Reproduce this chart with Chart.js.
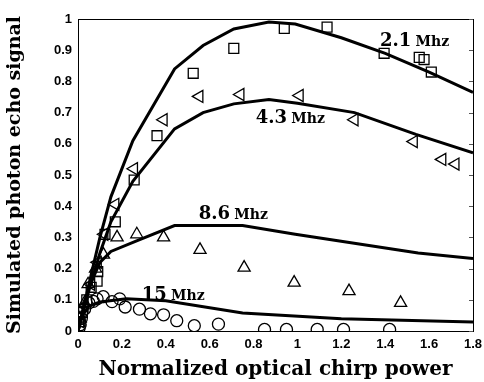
<!DOCTYPE html>
<html>
<head>
<meta charset="utf-8">
<script src="https://cdn.jsdelivr.net/npm/chart.js@4.4.0/dist/chart.umd.min.js"></script>
<style>
  html, body { margin: 0; padding: 0; background: #fff; }
  #wrap { width: 484px; height: 382px; position: relative; }
</style>
</head>
<body>
<div id="wrap"><canvas id="chart"></canvas></div>
<script>
// Simulated curves (solid lines), x = normalized chirp power
const curve21X = [0, 0.02, 0.05, 0.1, 0.15, 0.25, 0.44, 0.57, 0.71, 0.87, 0.99, 1.2, 1.4, 1.6, 1.8];
const curve21Y = [0, 0.06, 0.15, 0.3, 0.43, 0.61, 0.84, 0.915, 0.968, 0.99, 0.984, 0.94, 0.89, 0.83, 0.765];
const curve43X = [0, 0.02, 0.05, 0.1, 0.15, 0.25, 0.44, 0.57, 0.71, 0.87, 1.0, 1.26, 1.54, 1.8];
const curve43Y = [0, 0.055, 0.13, 0.25, 0.35, 0.48, 0.648, 0.7, 0.728, 0.742, 0.73, 0.7, 0.63, 0.571];
const curve86X = [0, 0.02, 0.05, 0.1, 0.15, 0.27, 0.44, 0.75, 0.99, 1.55, 1.8];
const curve86Y = [0, 0.06, 0.14, 0.22, 0.255, 0.29, 0.338, 0.338, 0.31, 0.25, 0.232];
const curve15X = [0, 0.02, 0.05, 0.1, 0.22, 0.4, 0.75, 1.2, 1.8];
const curve15Y = [0, 0.05, 0.08, 0.093, 0.103, 0.097, 0.058, 0.039, 0.029];

// Measured points
const pts21X = [0.01, 0.02, 0.04, 0.06, 0.087, 0.09, 0.123, 0.17, 0.256, 0.36, 0.525, 0.71, 0.94, 1.135, 1.395, 1.555, 1.577, 1.61];
const pts21Y = [0.03, 0.06, 0.1, 0.14, 0.16, 0.19, 0.31, 0.35, 0.484, 0.626, 0.826, 0.906, 0.97, 0.974, 0.89, 0.877, 0.87, 0.83];
const pts43X = [0.01, 0.03, 0.06, 0.09, 0.12, 0.17, 0.255, 0.39, 0.553, 0.74, 1.01, 1.26, 1.53, 1.66, 1.72];
const pts43Y = [0.03, 0.08, 0.15, 0.22, 0.31, 0.406, 0.52, 0.677, 0.752, 0.758, 0.755, 0.677, 0.607, 0.55, 0.535];
const pts86X = [0.01, 0.03, 0.046, 0.08, 0.116, 0.178, 0.268, 0.39, 0.556, 0.757, 0.985, 1.235, 1.47];
const pts86Y = [0.04, 0.09, 0.15, 0.2, 0.245, 0.3, 0.31, 0.3, 0.26, 0.203, 0.155, 0.128, 0.09];
const pts15X = [0.005, 0.01, 0.015, 0.03, 0.05, 0.07, 0.087, 0.115, 0.155, 0.19, 0.215, 0.28, 0.33, 0.39, 0.45, 0.53, 0.64, 0.85, 0.95, 1.09, 1.21, 1.42];
const pts15Y = [0.01, 0.02, 0.04, 0.07, 0.09, 0.095, 0.103, 0.11, 0.094, 0.103, 0.077, 0.07, 0.055, 0.052, 0.033, 0.017, 0.022, 0.005, 0.005, 0.005, 0.005, 0.005];

// Curve labels: value text and anchor in data units
const labelText = ['2.1', '4.3', '8.6', '15'];
const labelX = [1.376, 0.81, 0.55, 0.29];
const labelY = [0.913, 0.668, 0.358, 0.1];

const xTicks = [0, 0.2, 0.4, 0.6, 0.8, 1, 1.2, 1.4, 1.6, 1.8];
const yTicks = [0, 0.1, 0.2, 0.3, 0.4, 0.5, 0.6, 0.7, 0.8, 0.9, 1];

function toXY(xs, ys) {
  return xs.map((x, i) => ({ x: x, y: ys[i] }));
}

function curveSet(xs, ys) {
  return {
    data: toXY(xs, ys),
    showLine: true,
    borderColor: '#000',
    borderWidth: 3,
    pointRadius: 0,
    tension: 0,
    order: 1,
  };
}

function pointSet(xs, ys, style, radius, rotation) {
  return {
    data: toXY(xs, ys),
    showLine: false,
    pointStyle: style,
    pointRadius: radius,
    pointRotation: rotation || 0,
    pointBorderColor: '#000',
    pointBackgroundColor: 'rgba(0,0,0,0)',
    pointBorderWidth: 1.3,
    order: 2,
  };
}

// Frame, inner ticks and curve labels
const framePlugin = {
  id: 'frame',
  afterDatasetsDraw(chart) {
    const { ctx, chartArea: a, scales } = chart;
    ctx.save();
    ctx.strokeStyle = '#000';
    ctx.lineWidth = 1;
    ctx.strokeRect(a.left + 0.5, a.top + 0.5, a.right - a.left, a.bottom - a.top);
    ctx.strokeStyle = '#555';
    yTicks.forEach(v => {
      const py = Math.round(scales.y.getPixelForValue(v)) + 0.5;
      ctx.beginPath();
      ctx.moveTo(a.right - 4, py);
      ctx.lineTo(a.right, py);
      ctx.stroke();
    });
    ctx.fillStyle = '#000';
    ctx.textBaseline = 'alphabetic';
    labelText.forEach((t, i) => {
      const px = scales.x.getPixelForValue(labelX[i]);
      const py = scales.y.getPixelForValue(labelY[i]);
      ctx.font = 'bold 18px "DejaVu Serif"';
      ctx.fillText(t, px, py);
      const w = ctx.measureText(t + ' ').width;
      ctx.font = 'bold 14px "DejaVu Serif"';
      ctx.fillText('Mhz', px + w - 2, py);
    });
    ctx.restore();
  },
};

new Chart(document.getElementById('chart'), {
  type: 'scatter',
  data: {
    datasets: [
      curveSet(curve21X, curve21Y),
      curveSet(curve43X, curve43Y),
      curveSet(curve86X, curve86Y),
      curveSet(curve15X, curve15Y),
      pointSet(pts21X, pts21Y, 'rect', 7),
      pointSet(pts43X, pts43Y, 'triangle', 7, -90),
      pointSet(pts86X, pts86Y, 'triangle', 7),
      pointSet(pts15X, pts15Y, 'circle', 6),
    ],
  },
  options: {
    responsive: true,
    maintainAspectRatio: false,
    animation: false,
    layout: { padding: { top: 19, right: 0, left: 0, bottom: 0 } },
    plugins: {
      legend: { display: false },
      tooltip: { enabled: false },
    },
    scales: {
      x: {
        type: 'linear',
        min: 0,
        max: 1.8,
        afterBuildTicks: scale => { scale.ticks = xTicks.map(v => ({ value: v })); },
        afterFit: scale => { scale.height = 51; scale.paddingRight = 11; },
        grid: { display: false, drawTicks: false },
        border: { display: false },
        ticks: {
          color: '#000',
          padding: 6,
          maxRotation: 0,
          font: { family: '"Liberation Sans", Arial', weight: 'bold', size: 13 },
          callback: v => String(v),
        },
        title: {
          display: true,
          text: 'Normalized optical chirp power',
          color: '#000',
          padding: { top: 3, bottom: 0 },
          font: { family: '"DejaVu Serif"', weight: 'bold', size: 20 },
        },
      },
      y: {
        type: 'linear',
        min: 0,
        max: 1,
        afterBuildTicks: scale => { scale.ticks = yTicks.map(v => ({ value: v })); },
        afterFit: scale => { scale.width = 78; },
        grid: { display: false, drawTicks: false },
        border: { display: false },
        ticks: {
          color: '#000',
          padding: 6,
          font: { family: '"Liberation Sans", Arial', weight: 'bold', size: 13 },
          callback: v => String(v),
        },
        title: {
          display: true,
          text: 'Simulated photon echo signal',
          color: '#000',
          padding: { top: 4, bottom: 6 },
          font: { family: '"DejaVu Serif"', weight: 'bold', size: 19 },
        },
      },
    },
  },
  plugins: [framePlugin],
});
</script>
</body>
</html>
